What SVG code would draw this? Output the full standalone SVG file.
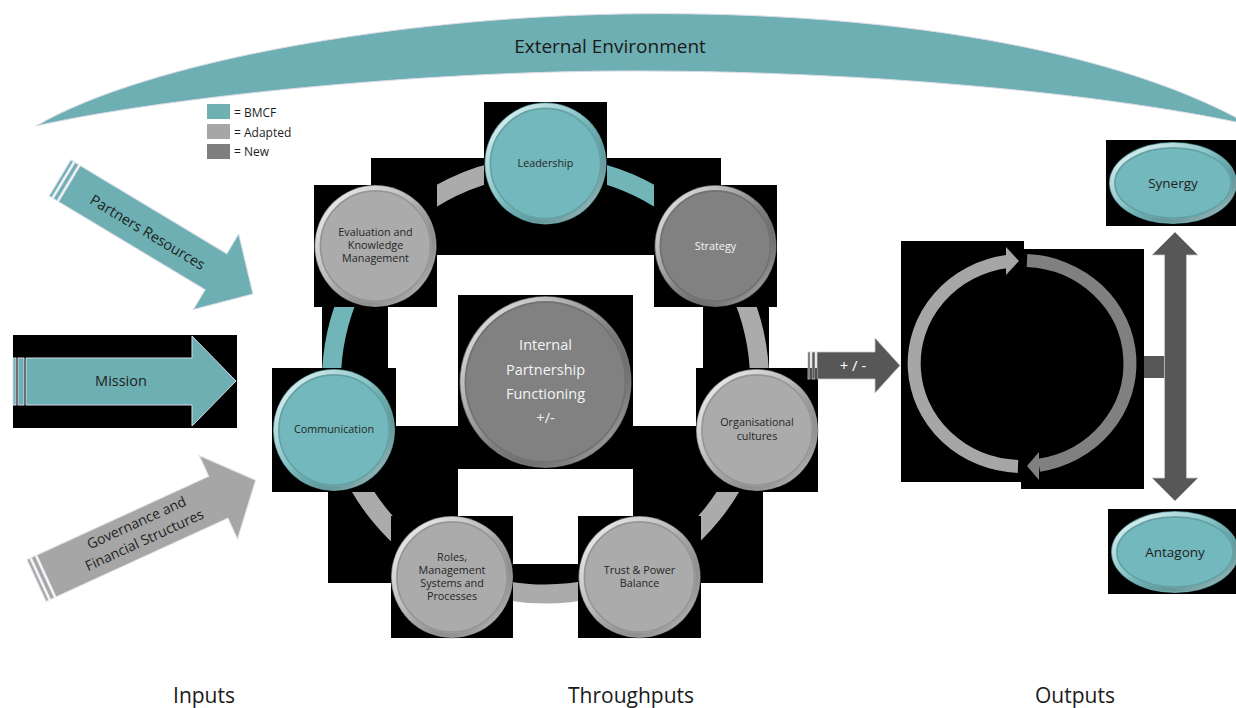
<svg xmlns="http://www.w3.org/2000/svg" width="1236" height="708" viewBox="0 0 1236 708">
<style>
  .txt{font-family:'Open Sans','Liberation Sans',sans-serif;}
  .bg{fill:#000;}
  .teal{fill:#72B8BC;}
  .adapt{fill:#ABABAB;}
  .new{fill:#818181;}
  .edge{fill:none;stroke:#000;stroke-opacity:.28;stroke-width:1;}
  .rim{fill:none;stroke:url(#rimGrad);stroke-width:4;}
  .rim2{fill:none;stroke:#000;stroke-opacity:.13;stroke-width:1.5;}
  .lbl{font-family:'Open Sans','Liberation Sans',sans-serif;font-size:10.8px;fill:#262626;text-anchor:middle;}
  .lblw{font-family:'Open Sans','Liberation Sans',sans-serif;font-size:10.8px;fill:#f4f4f4;text-anchor:middle;}
  .lblbig{font-family:'Open Sans','Liberation Sans',sans-serif;font-size:14.5px;fill:#f4f4f4;text-anchor:middle;}
  .ring{fill:none;stroke-width:19;}
  .ringG{stroke:#ABABAB;}
  .ringT{stroke:#72B5B8;}
  .arrowT{fill:#6DAFB2;stroke:#d8dce8;stroke-width:1;}
  .arrowG{fill:#A6A6A6;stroke:#e2e2ea;stroke-width:1;}
  .arrowD{fill:#575757;stroke:#c8c8d0;stroke-width:.8;}
  .big{font-family:'Open Sans','Liberation Sans',sans-serif;font-size:21px;fill:#1a1a1a;text-anchor:middle;}
  .atxt{font-family:'Open Sans','Liberation Sans',sans-serif;font-size:14.5px;fill:#1e1e1e;text-anchor:middle;}
  .atxt2{font-family:'Open Sans','Liberation Sans',sans-serif;font-size:14px;fill:#1e1e1e;text-anchor:middle;}
  .leg{font-family:'Open Sans','Liberation Sans',sans-serif;font-size:12px;fill:#1e1e1e;}
</style>
<defs>
  <linearGradient id="rimGrad" x1="0" y1="0" x2="1" y2="1">
    <stop offset="0" stop-color="#fff" stop-opacity=".9"/>
    <stop offset=".45" stop-color="#fff" stop-opacity=".15"/>
    <stop offset=".6" stop-color="#000" stop-opacity=".08"/>
    <stop offset="1" stop-color="#fff" stop-opacity=".75"/>
  </linearGradient>
</defs>
<rect width="1236" height="708" fill="#fff"/>

<!-- External environment -->
<g id="external-environment">
  <path d="M36,126 C150,60 400,18 620,14 C850,10 1100,40 1250,125 C1100,92 850,70 620,71 C400,72 150,100 36,126 Z" fill="#6DAFB2" stroke="#dcdce8" stroke-width="1"/>
  <text class="txt" x="610" y="53" font-size="19" fill="#1a1a1a" text-anchor="middle">External Environment</text>
</g>

<!-- Legend -->
<g id="legend">
  <rect x="207" y="104" width="23" height="15" fill="#6FB0B3"/>
  <rect x="207" y="124" width="23" height="15" fill="#A6A6A6"/>
  <rect x="207" y="144" width="23" height="15" fill="#7F7F7F"/>
  <text class="leg" x="234" y="117">= BMCF</text>
  <text class="leg" x="234" y="136.5">= Adapted</text>
  <text class="leg" x="234" y="156">= New</text>
</g>

<!-- Input arrows -->
<g id="input-partners" transform="translate(60,178) rotate(31)">
  <rect class="arrowT" x="0" y="-21" width="3" height="42"/>
  <rect class="arrowT" x="5" y="-21" width="4" height="42"/>
  <path class="arrowT" d="M11,-21 H182 V-44 L225,0 L182,44 V21 H11 Z"/>
  <text class="atxt" x="103" y="6.5">Partners Resources</text>
</g>
<g id="input-mission">
  <rect class="bg" x="13" y="335" width="224" height="93"/>
  <rect class="arrowT" x="13" y="358" width="3" height="47"/>
  <rect class="arrowT" x="18" y="358" width="6" height="47"/>
  <path class="arrowT" d="M26,358 H192 V336 L236,381 L192,426 V405 H26 Z"/>
  <text class="atxt" x="121" y="386">Mission</text>
</g>
<g id="input-governance" transform="translate(36.5,580.5) rotate(-24.6)">
  <rect class="arrowG" x="0" y="-23" width="3" height="46"/>
  <rect class="arrowG" x="5" y="-23" width="4" height="46"/>
  <path class="arrowG" d="M11,-23 H200 V-46 L241,0 L200,46 V23 H11 Z"/>
  <text class="atxt2" x="115" y="-6">Governance and</text>
  <text class="atxt2" x="115" y="13">Financial Structures</text>
</g>

<!-- Ring connectors -->
<g id="connectors">
  <rect class="bg" x="371" y="158" width="175" height="97"/>
  <rect class="bg" x="545" y="158" width="176" height="97"/>
  <rect class="bg" x="703" y="246" width="66" height="184"/>
  <rect class="bg" x="633" y="426" width="130" height="157"/>
  <rect class="bg" x="451" y="564" width="189" height="21"/>
  <rect class="bg" x="328" y="426" width="130" height="157"/>
  <rect class="bg" x="322" y="246" width="66" height="184"/>
  <path class="ring ringT" d="M545.5,166 A214,214 0 0 1 713.7,247.7"/>
  <path class="ring ringG" d="M713.7,247.7 A214,214 0 0 1 753.7,429.2"/>
  <path class="ring ringG" d="M753.7,429.2 A214,214 0 0 1 637.6,573.2"/>
  <path class="ring ringG" d="M637.6,573.2 A214,214 0 0 1 453.4,573.2"/>
  <path class="ring ringG" d="M453.4,573.2 A214,214 0 0 1 337.3,429.2"/>
  <path class="ring ringT" d="M337.3,429.2 A214,214 0 0 1 377.3,247.7"/>
  <path class="ring ringG" d="M377.3,247.7 A214,214 0 0 1 545.5,166"/>
</g>

<!-- Nodes -->
<g id="node-leadership">
  <rect class="bg" x="484" y="102" width="123" height="123"/>
  <circle class="teal" cx="545.5" cy="163.5" r="61"/>
  <circle class="edge" cx="545.5" cy="163.5" r="61"/>
  <circle class="rim" cx="545.5" cy="163.5" r="58"/>
  <circle class="rim2" cx="545.5" cy="163.5" r="55"/>
  <text class="lbl" x="545.5" y="167">Leadership</text>
</g>
<g id="node-strategy">
  <rect class="bg" x="654" y="185" width="123" height="122"/>
  <circle class="new" cx="715.5" cy="246" r="61"/>
  <circle class="edge" cx="715.5" cy="246" r="61"/>
  <circle class="rim" cx="715.5" cy="246" r="58"/>
  <circle class="rim2" cx="715.5" cy="246" r="55"/>
  <text class="lblw" x="715.5" y="249.5">Strategy</text>
</g>
<g id="node-organisational-cultures">
  <rect class="bg" x="696" y="368" width="122" height="124"/>
  <circle class="adapt" cx="757" cy="430" r="61"/>
  <circle class="edge" cx="757" cy="430" r="61"/>
  <circle class="rim" cx="757" cy="430" r="58"/>
  <circle class="rim2" cx="757" cy="430" r="55"/>
  <text class="lbl" x="757" y="425.5">Organisational</text>
  <text class="lbl" x="757" y="439.5">cultures</text>
</g>
<g id="node-trust-power">
  <rect class="bg" x="578" y="516" width="123" height="122"/>
  <circle class="adapt" cx="639.5" cy="577" r="61"/>
  <circle class="edge" cx="639.5" cy="577" r="61"/>
  <circle class="rim" cx="639.5" cy="577" r="58"/>
  <circle class="rim2" cx="639.5" cy="577" r="55"/>
  <text class="lbl" x="639.5" y="573.5">Trust &amp; Power</text>
  <text class="lbl" x="639.5" y="586.5">Balance</text>
</g>
<g id="node-roles">
  <rect class="bg" x="391" y="516" width="122" height="122"/>
  <circle class="adapt" cx="452" cy="577" r="61"/>
  <circle class="edge" cx="452" cy="577" r="61"/>
  <circle class="rim" cx="452" cy="577" r="58"/>
  <circle class="rim2" cx="452" cy="577" r="55"/>
  <text class="lbl" x="452" y="560.5">Roles,</text>
  <text class="lbl" x="452" y="573.5">Management</text>
  <text class="lbl" x="452" y="586.5">Systems and</text>
  <text class="lbl" x="452" y="599.5">Processes</text>
</g>
<g id="node-communication">
  <rect class="bg" x="272" y="368" width="124" height="124"/>
  <circle class="teal" cx="334" cy="430" r="61"/>
  <circle class="edge" cx="334" cy="430" r="61"/>
  <circle class="rim" cx="334" cy="430" r="58"/>
  <circle class="rim2" cx="334" cy="430" r="55"/>
  <text class="lbl" x="334" y="433">Communication</text>
</g>
<g id="node-evaluation">
  <rect class="bg" x="314" y="185" width="123" height="122"/>
  <circle class="adapt" cx="375.5" cy="246" r="61"/>
  <circle class="edge" cx="375.5" cy="246" r="61"/>
  <circle class="rim" cx="375.5" cy="246" r="58"/>
  <circle class="rim2" cx="375.5" cy="246" r="55"/>
  <text class="lbl" x="375.5" y="235.5">Evaluation and</text>
  <text class="lbl" x="375.5" y="248.5">Knowledge</text>
  <text class="lbl" x="375.5" y="261.5">Management</text>
</g>
<g id="node-internal">
  <rect class="bg" x="458" y="295" width="175" height="174"/>
  <circle class="new" cx="545.5" cy="382" r="86"/>
  <circle class="edge" cx="545.5" cy="382" r="86"/>
  <circle class="rim" cx="545.5" cy="382" r="83"/>
  <circle class="rim2" cx="545.5" cy="382" r="80"/>
  <text class="lblbig" x="545.5" y="350">Internal</text>
  <text class="lblbig" x="545.5" y="374.5">Partnership</text>
  <text class="lblbig" x="545.5" y="399">Functioning</text>
  <text class="lblbig" x="545.5" y="423">+/-</text>
</g>

<!-- Output side -->
<g id="node-cycle">
  <rect class="bg" x="901" y="241" width="123" height="241"/>
  <rect class="bg" x="1021" y="249" width="123" height="240"/>
  <path d="M1007,261.5 A108,103 0 0 0 1018,466.4" fill="none" stroke="#A6A6A6" stroke-width="13"/>
  <polygon points="1006,247 1019,261 1006,275" fill="#A6A6A6"/>
  <path d="M1027,260.6 A108,103 0 0 1 1039,465.2" fill="none" stroke="#808080" stroke-width="13"/>
  <polygon points="1039,452 1027,466 1039,480" fill="#808080"/>
</g>
<g id="node-synergy">
  <rect class="bg" x="1106" y="140" width="130" height="86"/>
  <ellipse class="teal" cx="1173" cy="183" rx="64" ry="41"/>
  <ellipse class="edge" cx="1173" cy="183" rx="64" ry="41"/>
  <ellipse class="rim" cx="1173" cy="183" rx="61" ry="38"/>
  <ellipse class="rim2" cx="1173" cy="183" rx="58" ry="35"/>
  <text class="txt" x="1173" y="187.5" font-size="13.5" fill="#1e1e1e" text-anchor="middle">Synergy</text>
</g>
<g id="node-antagony">
  <rect class="bg" x="1108" y="509" width="128" height="85"/>
  <ellipse class="teal" cx="1175" cy="552" rx="64" ry="41"/>
  <ellipse class="edge" cx="1175" cy="552" rx="64" ry="41"/>
  <ellipse class="rim" cx="1175" cy="552" rx="61" ry="38"/>
  <ellipse class="rim2" cx="1175" cy="552" rx="58" ry="35"/>
  <text class="txt" x="1175" y="556.5" font-size="13.5" fill="#1e1e1e" text-anchor="middle">Antagony</text>
</g>

<g id="flow-arrows">
  <rect class="arrowD" x="808" y="352" width="2" height="27"/>
  <rect class="arrowD" x="812" y="352" width="3" height="27"/>
  <path class="arrowD" d="M817,352 H875 V338 L900,365.5 L875,393 V379 H817 Z"/>
  <text class="txt" x="853" y="371" font-size="15" fill="#fff" text-anchor="middle">+ / -</text>
  <rect x="1144" y="356" width="22" height="22" fill="#575757"/>
  <path class="arrowD" d="M1164.5,255 H1152 L1175,232 L1198,255 H1186.5 V478 H1198 L1175,501 L1152,478 H1164.5 Z"/>
</g>

<!-- Section labels -->
<g id="section-labels">
  <text class="big" x="204" y="703">Inputs</text>
  <text class="big" x="631" y="703">Throughputs</text>
  <text class="big" x="1075" y="703">Outputs</text>
</g>
</svg>
